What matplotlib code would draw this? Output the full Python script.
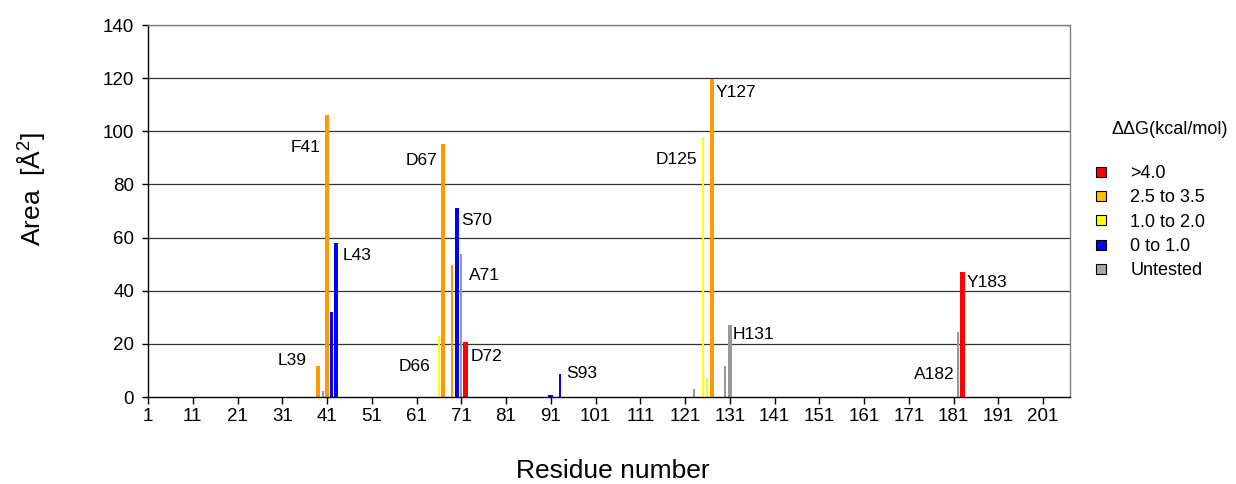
import matplotlib
matplotlib.use("Agg")
import matplotlib.pyplot as plt
from matplotlib.lines import Line2D

plt.rcParams["font.family"] = ["Liberation Sans", "DejaVu Sans"]
plt.rcParams["mathtext.fontset"] = "custom"
plt.rcParams["mathtext.rm"] = "Liberation Sans"

# Residue positions, buried area and stability class of each mutant
residues = [39, 40, 41, 42, 43, 66, 67, 69, 70, 71, 72, 91, 93,
            123, 125, 126, 127, 130, 131, 182, 183]
areas = [11.7, 2.3, 106.1, 32.0, 58.0, 23.0, 95.2, 49.7, 71.1, 53.8, 20.8,
         0.8, 8.7, 3.0, 97.9, 7.1, 119.5, 11.7, 27.1, 24.6, 47.0]
classes = ["2.5 to 3.5", "Untested", "2.5 to 3.5", "0 to 1.0", "0 to 1.0",
           "1.0 to 2.0", "2.5 to 3.5", "2.5 to 3.5", "0 to 1.0", "Untested",
           ">4.0", "0 to 1.0", "0 to 1.0", "Untested", "1.0 to 2.0",
           "1.0 to 2.0", "2.5 to 3.5", "Untested", "Untested", "Untested",
           ">4.0"]
labels = ["L39", "", "F41", "", "L43", "D66", "D67", "", "S70", "A71", "D72",
          "", "S93", "", "D125", "", "Y127", "", "H131", "A182", "Y183"]

legend_title = "ΔΔG(kcal/mol)"
legend_classes = [">4.0", "2.5 to 3.5", "1.0 to 2.0", "0 to 1.0", "Untested"]
x_ticks = list(range(1, 202, 10))
y_ticks = list(range(0, 141, 20))

# Styling
bar_colors = {">4.0": "#FF0000", "2.5 to 3.5": "#FF9900", "1.0 to 2.0": "#FFFF00",
              "0 to 1.0": "#0000FF", "Untested": "#999999"}
legend_colors = {">4.0": "#FF0000", "2.5 to 3.5": "#FFC000", "1.0 to 2.0": "#FFFF00",
                 "0 to 1.0": "#0000FF", "Untested": "#A6A6A6"}
bar_widths = [0.95, 0.45, 0.95, 0.45, 0.95, 0.45, 0.85, 0.45, 0.85, 0.45, 1.1,
              1.1, 0.45, 0.6, 0.45, 0.45, 0.95, 0.45, 0.95, 0.45, 1.1]
# label offsets (pixels) from each bar top, and alignment
label_offsets = {"L39": (-11, 5, "right"), "F41": (-7, -32, "right"),
                 "L43": (7, -13, "left"), "D66": (-9, -31, "right"),
                 "D67": (-6, -16, "right"), "S70": (4, -12, "left"),
                 "A71": (8, -21, "left"), "D72": (5, -15, "left"),
                 "S93": (6, 0, "left"), "D125": (-6, -23, "right"),
                 "Y127": (4, -13, "left"), "H131": (3, -10, "left"),
                 "A182": (-4, -43, "right"), "Y183": (4.5, -10, "left")}

fig = plt.figure(figsize=(12.36, 4.84), dpi=100)
ax = fig.add_axes([148 / 1236, 1 - 397 / 484, 922 / 1236, 372 / 484])

for y in y_ticks[1:]:
    ax.axhline(y, color="#333333", lw=0.9, zorder=1)

ax.bar(residues, areas, width=bar_widths,
       color=[bar_colors[c] for c in classes], zorder=2)

for r, a, lab in zip(residues, areas, labels):
    if not lab:
        continue
    dx, dy, ha = label_offsets[lab]
    ax.annotate(lab, xy=(r, a), xytext=(dx, dy), textcoords="offset pixels",
                ha=ha, va="center", fontsize=12.5, color="black")

ax.set_xlim(1, 207)
ax.set_ylim(0, 140)
ax.set_xticks(x_ticks)
ax.set_xticklabels([str(t) for t in x_ticks])
ax.set_yticks(y_ticks)
ax.tick_params(axis="x", direction="out", length=5, width=1, labelsize=13.5, pad=3)
ax.tick_params(axis="y", direction="out", length=4, width=1, labelsize=13.5, pad=6)

for side in ("left", "bottom"):
    ax.spines[side].set_color("black")
    ax.spines[side].set_linewidth(1)
for side in ("top", "right"):
    ax.spines[side].set_color("#808080")
    ax.spines[side].set_linewidth(1)

ax.set_xlabel("Residue number", fontsize=19, va="center")
ax.xaxis.set_label_coords(0.504, -0.2)
ax.set_ylabel("Area  [Å$^{2}$]", fontsize=19, va="center")
ax.yaxis.set_label_coords(-0.126, 0.56)

# Legend: title drawn separately, offset to the right of the key column
fig.text(1111 / 1236, 1 - 130 / 484, legend_title, fontsize=13,
         ha="left", va="center")
handles = [Line2D([], [], marker="s", linestyle="none", markersize=7,
                  markerfacecolor=legend_colors[c], markeredgecolor="black",
                  markeredgewidth=0.8) for c in legend_classes]
fig.legend(handles, legend_classes, loc="upper left",
           bbox_to_anchor=(1085 / 1236, 1 - 158 / 484), frameon=False,
           fontsize=13, handletextpad=1.1, labelspacing=0.40,
           handlelength=1.0, borderaxespad=0)

fig.savefig("out.png", dpi=100)
